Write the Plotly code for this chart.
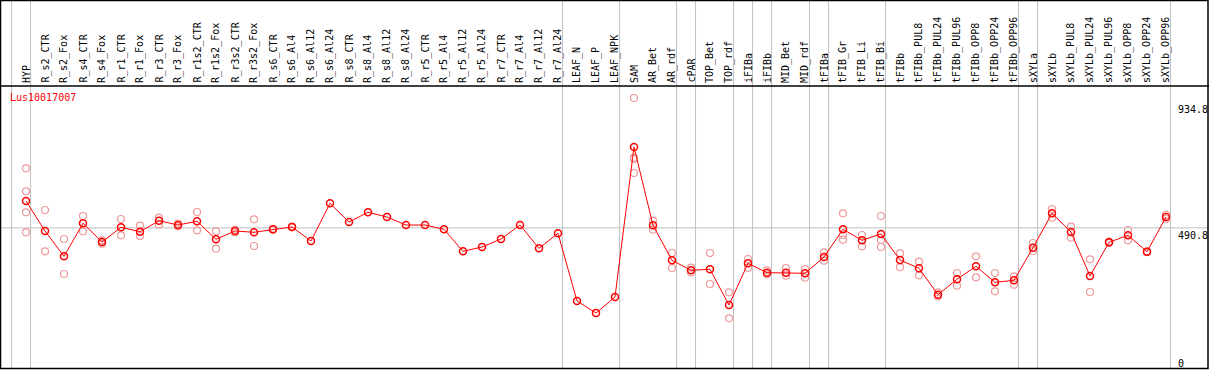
import plotly.graph_objects as go

# ---------------- data ----------------
categories = [
    "HYP", "R_s2_CTR", "R_s2_Fox", "R_s4_CTR", "R_s4_Fox", "R_r1_CTR", "R_r1_Fox",
    "R_r3_CTR", "R_r3_Fox", "R_r1s2_CTR", "R_r1s2_Fox", "R_r3s2_CTR", "R_r3s2_Fox",
    "R_s6_CTR", "R_s6_Al4", "R_s6_Al12", "R_s6_Al24", "R_s8_CTR", "R_s8_Al4",
    "R_s8_Al12", "R_s8_Al24", "R_r5_CTR", "R_r5_Al4", "R_r5_Al12", "R_r5_Al24",
    "R_r7_CTR", "R_r7_Al4", "R_r7_Al12", "R_r7_Al24", "LEAF_N", "LEAF_P", "LEAF_NPK",
    "SAM", "AR_Bet", "AR_rdf", "cPAR", "TOP_Bet", "TOP_rdf", "iFIBa", "iFIBb",
    "MID_Bet", "MID_rdf", "tFIBa", "tFIB_Gr", "tFIB_Li", "tFIB_Bi", "tFIBb",
    "tFIBb_PUL8", "tFIBb_PUL24", "tFIBb_PUL96", "tFIBb_OPP8", "tFIBb_OPP24",
    "tFIBb_OPP96", "sXYLa", "sXYLb", "sXYLb_PUL8", "sXYLb_PUL24", "sXYLb_PUL96",
    "sXYLb_OPP8", "sXYLb_OPP24", "sXYLb_OPP96",
]

mean_values = [
    585.6, 479.8, 390.5, 506.9, 440.9, 492.8, 477.3, 516.1, 500.9, 514.0,
    450.5, 479.8, 475.2, 485.7, 493.9, 444.5, 577.5, 511.5, 545.7, 529.1,
    500.9, 500.9, 485.7, 408.1, 423.3, 451.5, 500.9, 418.7, 471.6, 232.8,
    190.5, 246.9, 776.1, 499.9, 376.4, 341.1, 344.6, 218.7, 365.8, 332.7,
    332.7, 330.5, 388.0, 485.7, 446.9, 469.2, 377.5, 348.2, 255.0, 309.4,
    355.2, 298.8, 305.8, 420.8, 542.2, 476.2, 321.0, 439.9, 464.6, 406.7,
    529.1,
]

replicate_values = [
    [700.9, 619.8, 545.7, 475.2], [553.8, 408.1], [451.5, 328.1], [532.7, 478.7],
    [446.9, 435.0], [522.1, 464.6], [498.4, 462.1], [526.7, 502.5], [506.2, 495.6],
    [546.8, 482.2], [478.7, 417.3], [485.0, 474.5], [521.0, 426.8], [487.0, 484.0],
    [495.0, 493.0], [], [], [], [], [], [], [], [], [], [], [], [], [], [], [], [], [],
    [948.9, 738.3, 733.7, 684.4], [516.1, 484.3], [402.1, 349.2], [350.3, 333.4],
    [402.1, 292.8], [263.5, 171.8], [381.0, 350.3], [341.1, 327.0], [349.2, 322.1],
    [345.7, 315.0], [404.6, 375.0], [542.2, 465.6, 449.1], [465.6, 425.8],
    [532.7, 448.0, 423.3], [401.1, 352.0], [371.5, 323.5], [263.5, 248.7],
    [331.6, 286.8], [390.5, 316.4], [331.6, 267.0], [320.0, 290.3], [437.4, 409.2],
    [557.4, 526.7], [494.9, 456.1], [379.9, 264.6], [442.0, 438.0], [483.3, 446.9],
    [408.0, 405.0], [536.2, 522.0],
]

separator_after = ["HYP", "R_r7_Al24", "LEAF_NPK", "AR_rdf", "cPAR", "TOP_rdf",
                   "iFIBa", "iFIBb", "MID_rdf", "tFIBa", "tFIB_Bi", "tFIBb_OPP96",
                   "sXYLa", "sXYLb_OPP96"]

axis_labels = [934.8, 490.8, 0]
gene_name = "Lus10017007"

# ---------------- geometry ----------------
W, H = 1209, 370
X0, DX = 26.0, 19.0          # pixel of first category, pixel step
Y_ZERO, Y_TOP = 367.0, 102.0  # pixel of value 0 and value axis_max
K = (Y_ZERO - Y_TOP) / axis_labels[0]
HEADER_Y = 86

xmin = -X0 / DX
xmax = xmin + W / DX
ymin = (Y_ZERO - H) / K
ymax = Y_ZERO / K

def px(v):
    return Y_ZERO - v * K

def xp(p):
    return p / W

def yp(p):
    return 1 - p / H

idx = list(range(len(categories)))

rep_x, rep_y = [], []
for i, reps in enumerate(replicate_values):
    for v in reps:
        rep_x.append(i)
        rep_y.append(v)

fig = go.Figure()
fig.add_trace(go.Scatter(
    x=rep_x, y=rep_y, mode="markers",
    marker=dict(symbol="circle-open", size=7, color="#ee9a9a", line=dict(width=1.2)),
    hoverinfo="skip", showlegend=False,
))
fig.add_trace(go.Scatter(
    x=idx, y=mean_values, mode="lines+markers",
    line=dict(color="#ff0000", width=1),
    marker=dict(symbol="circle-open", size=7, color="#ff0000", line=dict(width=1.5)),
    text=categories, showlegend=False,
))

shapes = []
# separators
sep_pos = [-1] + [categories.index(c) for c in separator_after]
for s in sep_pos:
    shapes.append(dict(type="line", xref="x", yref="paper", x0=s + 0.24, x1=s + 0.24,
                       y0=yp(H - 1), y1=1, line=dict(color="#c0c0c0", width=1), layer="below"))
# horizontal grid at middle label
shapes.append(dict(type="line", xref="paper", yref="y", x0=0, x1=1,
                   y0=axis_labels[1], y1=axis_labels[1],
                   line=dict(color="#c0c0c0", width=1), layer="below"))
# header separator and frame
shapes.append(dict(type="line", xref="paper", yref="paper", x0=0, x1=1,
                   y0=yp(HEADER_Y), y1=yp(HEADER_Y), line=dict(color="black", width=1.5)))
shapes.append(dict(type="rect", xref="paper", yref="paper", x0=xp(0.5), x1=xp(W - 1),
                   y0=yp(H - 1.5), y1=yp(0.5), line=dict(color="black", width=1.5)))

annotations = []
FONT = "DejaVu Sans Mono"
for i, c in enumerate(categories):
    annotations.append(dict(x=i, y=yp(84), xref="x", yref="paper", text=c,
                            textangle=-90, xanchor="center", yanchor="bottom",
                            showarrow=False, font=dict(family=FONT, size=10, color="black"),
                            borderpad=0))
annotations.append(dict(x=xp(9), y=yp(91), xref="paper", yref="paper", text=gene_name,
                        xanchor="left", yanchor="top", showarrow=False,
                        font=dict(family=FONT, size=10, color="#ff0000"), borderpad=0))
for v in axis_labels:
    top = min(px(v) + 1, 357)
    annotations.append(dict(x=xp(1177), y=yp(top), xref="paper", yref="paper",
                            text=f"{v:g}", xanchor="left", yanchor="top", showarrow=False,
                            font=dict(family=FONT, size=10, color="black"), borderpad=0))

fig.update_layout(
    width=W, height=H, autosize=False,
    margin=dict(l=0, r=0, t=0, b=0, pad=0),
    paper_bgcolor="white", plot_bgcolor="white",
    xaxis=dict(range=[xmin, xmax], visible=False, fixedrange=True),
    yaxis=dict(range=[ymin, ymax], visible=False, fixedrange=True),
    shapes=shapes, annotations=annotations,
    hovermode="closest",
)

fig.write_html("out.html", post_script="document.body.style.margin='0';",
               config={"displayModeBar": False})
